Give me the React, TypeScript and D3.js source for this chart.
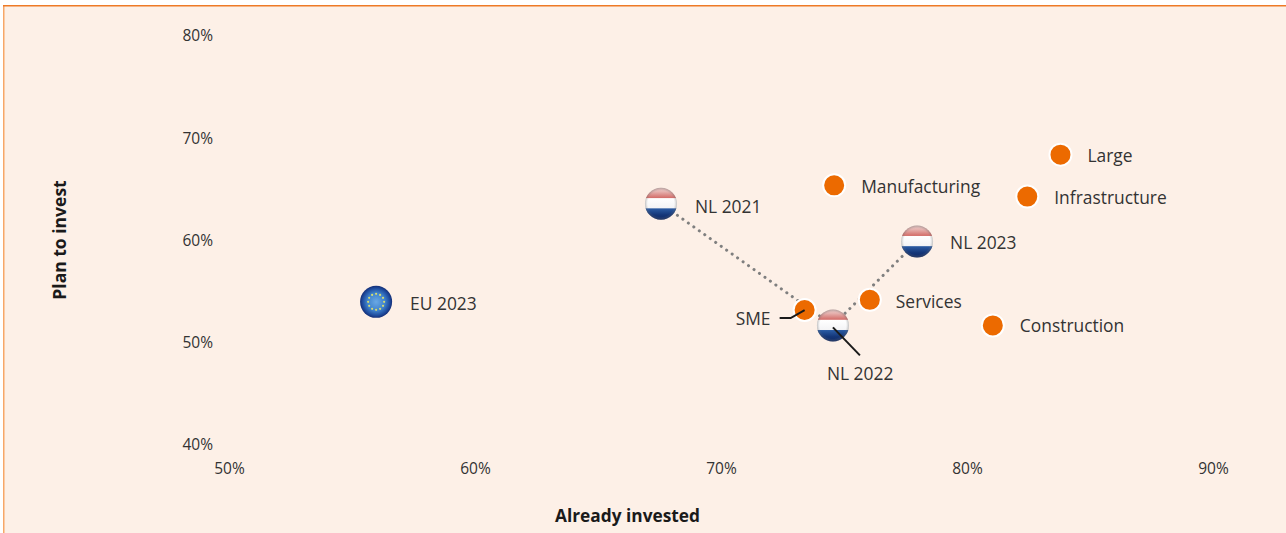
import { useEffect, useRef } from "react";
import * as d3 from "d3";

const WIDTH = 1286;
const HEIGHT = 533;

const xTicks = [50, 60, 70, 80, 90];
const yTicks = [40, 50, 60, 70, 80];

const nlNames = ["NL 2021", "NL 2022", "NL 2023"];
const nlInvested = [67.56, 74.55, 77.97];
const nlPlan = [63.5, 51.6, 59.8];

const euNames = ["EU 2023"];
const euInvested = [55.98];
const euPlan = [53.9];

const groupNames = ["SME", "Services", "Construction", "Infrastructure", "Manufacturing", "Large"];
const groupInvested = [73.4, 76.05, 81.05, 82.45, 74.6, 83.8];
const groupPlan = [53.1, 54.1, 51.6, 64.2, 65.3, 68.3];

const FONT = "'Open Sans', 'Noto Sans', sans-serif";
const TEXT = "#333333";
const ORANGE = "#ec6a00";

// label placement relative to the marker, by hand
const labelOffset: Record<string, [number, number]> = {
  "NL 2021": [34, 5],
  "NL 2022": [-6, 50],
  "NL 2023": [33, 3],
  "EU 2023": [34, 3],
  SME: [-69, 10],
  Services: [26, 4],
  Construction: [27, 2],
  Infrastructure: [27, 3],
  Manufacturing: [27, 3],
  Large: [27, 3],
};

export default function App() {
  const ref = useRef<SVGSVGElement>(null);

  useEffect(() => {
    const svg = d3.select(ref.current);
    svg.selectAll("*").remove();

    const x = d3.scaleLinear().domain([50, 90]).range([229, 1213]);
    const y = d3.scaleLinear().domain([40, 80]).range([444, 35]);

    const defs = svg.append("defs");

    // glassy sphere look for the flag markers
    const eu = defs.append("radialGradient").attr("id", "euBall").attr("cx", "50%").attr("cy", "50%").attr("r", "50%");
    eu.append("stop").attr("offset", "0%").attr("stop-color", "#6aa8e4");
    eu.append("stop").attr("offset", "55%").attr("stop-color", "#3f82cc");
    eu.append("stop").attr("offset", "85%").attr("stop-color", "#1f4c9e");
    eu.append("stop").attr("offset", "100%").attr("stop-color", "#142f78");

    const nl = defs.append("linearGradient").attr("id", "nlBall").attr("x1", 0).attr("x2", 0).attr("y1", 0).attr("y2", 1);
    [
      [0, "#e4c6c4"],
      [0.12, "#e6b3b0"],
      [0.31, "#d4706c"],
      [0.34, "#ffffff"],
      [0.63, "#f4f4f6"],
      [0.66, "#2a5aa2"],
      [0.85, "#143678"],
      [1, "#0f2a68"],
    ].forEach(([o, c]) => nl.append("stop").attr("offset", o as number).attr("stop-color", c as string));

    const rim = defs.append("radialGradient").attr("id", "rim").attr("cx", "50%").attr("cy", "50%").attr("r", "50%");
    rim.append("stop").attr("offset", "82%").attr("stop-color", "#888").attr("stop-opacity", 0);
    rim.append("stop").attr("offset", "100%").attr("stop-color", "#555").attr("stop-opacity", 0.35);

    // panel
    svg.append("rect").attr("x", 3).attr("y", 5).attr("width", WIDTH - 3).attr("height", HEIGHT - 5).attr("fill", "#fdf0e7");
    svg.append("rect").attr("x", 3).attr("y", 5).attr("width", 1.5).attr("height", HEIGHT - 5).attr("fill", "#f7a768");
    svg.append("rect").attr("x", 3).attr("y", 5).attr("width", WIDTH - 3).attr("height", 1.5).attr("fill", "#ee7a26");

    // axes
    const xAxis = svg.append("g").attr("transform", "translate(0,459)")
      .call(d3.axisBottom(x).tickValues(xTicks).tickSize(0).tickPadding(4).tickFormat((d) => `${d}%`));
    const yAxis = svg.append("g").attr("transform", "translate(213,1)")
      .call(d3.axisLeft(y).tickValues(yTicks).tickSize(0).tickPadding(0).tickFormat((d) => `${d}%`));
    [xAxis, yAxis].forEach((a) => {
      a.select(".domain").remove();
      a.selectAll("text").attr("fill", TEXT).style("font-family", FONT).style("font-size", "15.5px");
    });

    svg.append("text").attr("x", 627.5).attr("y", 522).attr("text-anchor", "middle")
      .attr("fill", "#1a1a1a").style("font-family", FONT).style("font-size", "17.3px").style("font-weight", 700)
      .text("Already invested");
    svg.append("text").attr("transform", "translate(66,240) rotate(-90)").attr("text-anchor", "middle")
      .attr("fill", "#1a1a1a").style("font-family", FONT).style("font-size", "17.5px").style("font-weight", 700)
      .text("Plan to invest");

    // dotted NL path
    const nlLine = d3.line<number>().x((d) => x(d)).y((_, i) => y(nlPlan[i]));
    svg.append("path").attr("d", nlLine(nlInvested)).attr("fill", "none")
      .attr("stroke", "#7f7f7f").attr("stroke-width", 3).attr("stroke-linecap", "round").attr("stroke-dasharray", "0.1 6.6");

    // orange sector dots
    groupNames.forEach((_, i) => {
      svg.append("circle").attr("cx", x(groupInvested[i])).attr("cy", y(groupPlan[i])).attr("r", 11)
        .attr("fill", ORANGE).attr("stroke", "#ffffff").attr("stroke-width", 2);
    });

    // NL flags
    nlNames.forEach((_, i) => {
      const g = svg.append("g").attr("transform", `translate(${x(nlInvested[i])},${y(nlPlan[i])})`);
      g.append("circle").attr("r", 16).attr("fill", "url(#nlBall)");
      g.append("circle").attr("r", 16).attr("fill", "url(#rim)");
    });

    // EU flag
    euNames.forEach((_, i) => {
      const g = svg.append("g").attr("transform", `translate(${x(euInvested[i])},${y(euPlan[i])})`);
      g.append("circle").attr("r", 16).attr("fill", "url(#euBall)");
      d3.range(12).forEach((k) => {
        const a = (k * Math.PI) / 6;
        g.append("circle").attr("cx", 8 * Math.cos(a)).attr("cy", 8 * Math.sin(a)).attr("r", 1.1).attr("fill", "#d5dc72");
      });
    });

    // labels
    const addLabel = (name: string, px: number, py: number) => {
      const [dx, dy] = labelOffset[name];
      svg.append("text").attr("x", px + dx).attr("y", py + dy).attr("dominant-baseline", "middle")
        .attr("fill", TEXT).style("font-family", FONT).style("font-size", "17.4px").text(name);
    };
    nlNames.forEach((n, i) => addLabel(n, x(nlInvested[i]), y(nlPlan[i])));
    euNames.forEach((n, i) => addLabel(n, x(euInvested[i]), y(euPlan[i])));
    groupNames.forEach((n, i) => addLabel(n, x(groupInvested[i]), y(groupPlan[i])));

    // leader lines
    const leader = d3.line();
    const smeX = x(groupInvested[0]);
    const smeY = y(groupPlan[0]);
    svg.append("path").attr("d", leader([[smeX - 25, smeY + 8], [smeX - 14, smeY + 8], [smeX, smeY]]))
      .attr("fill", "none").attr("stroke", "#1a1a1a").attr("stroke-width", 2);
    const nl22X = x(nlInvested[1]);
    const nl22Y = y(nlPlan[1]);
    svg.append("path").attr("d", leader([[nl22X, nl22Y + 2], [nl22X + 27, nl22Y + 30]]))
      .attr("fill", "none").attr("stroke", "#1a1a1a").attr("stroke-width", 2);
  }, []);

  return (
    <svg
      ref={ref}
      width={WIDTH}
      height={HEIGHT}
      style={{ position: "fixed", left: 0, top: 0, display: "block" }}
    />
  );
}
